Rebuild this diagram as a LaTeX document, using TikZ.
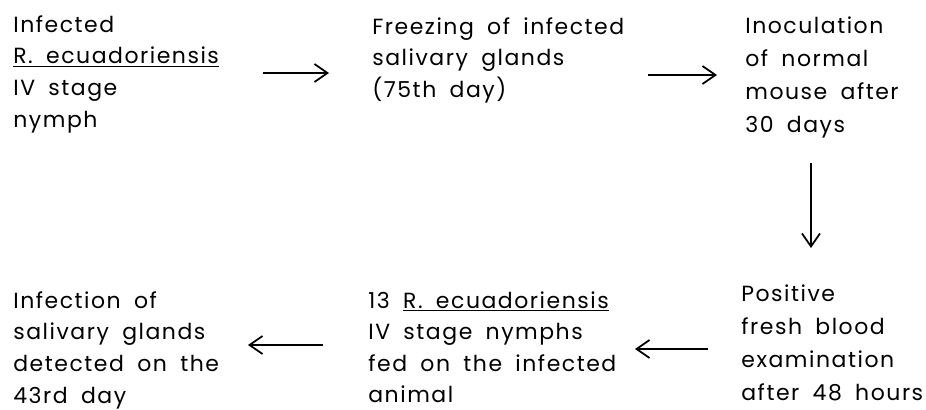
\documentclass[tikz,border=0pt]{standalone}
\usepackage{fontspec}
\setmainfont[LetterSpace=7, WordSpace=1.8]{Poppins}
\usepackage{tikz}
\usetikzlibrary{arrows.meta,positioning}

\begin{document}
\begin{tikzpicture}[x=0.02cm, y=-0.02cm,
      font=\fontsize{12.5}{18}\selectfont,
      txt/.style={anchor=north west, inner sep=0pt, align=left},
      wide/.style={txt, font=\fontsize{12.5}{18.8}\selectfont},
      arr/.style={-{Straight Barb[length=2.6mm, width=3.6mm]}, line width=1pt}]
    \useasboundingbox (0,0) rectangle (926,409);
    % top row
    \node[txt] (infected) at (13,15) {Infected\\
      \underline{R. ecuadoriensis}\\IV stage\\nymph};
    \node[txt] (freezing) at (372,17) {Freezing of infected\\
      salivary glands\\(75th day)};
    \node[wide] (inoc) at (745,16) {Inoculation\\of normal\\
      mouse after\\30 days};
    % bottom row
    \node[txt] (detect) at (13,291) {Infection of\\salivary glands\\
      detected on the\\43rd day};
    \node[txt] (nymphs) at (368,291) {13 \underline{R. ecuadoriensis}\\
      IV stage nymphs\\fed on the infected\\animal};
    \node[wide] (positive) at (741,284) {Positive\\fresh blood\\
      examination\\after 48 hours};
    % arrow ends
    \coordinate (a1) at (263,73);
    \coordinate (b1) at (329,73);
    \coordinate (a2) at (648,75);
    \coordinate (b2) at (717,75);
    \coordinate (a3) at (811,163);
    \coordinate (b3) at (811,248);
    \coordinate (a4) at (708,349);
    \coordinate (b4) at (635,349);
    \coordinate (a5) at (323,345);
    \coordinate (b5) at (248,345);
    \draw[arr] (a1) -- (b1);
    \draw[arr] (a2) -- (b2);
    \draw[arr] (a3) -- (b3);
    \draw[arr] (a4) -- (b4);
    \draw[arr] (a5) -- (b5);
  \end{tikzpicture}
\end{document}
